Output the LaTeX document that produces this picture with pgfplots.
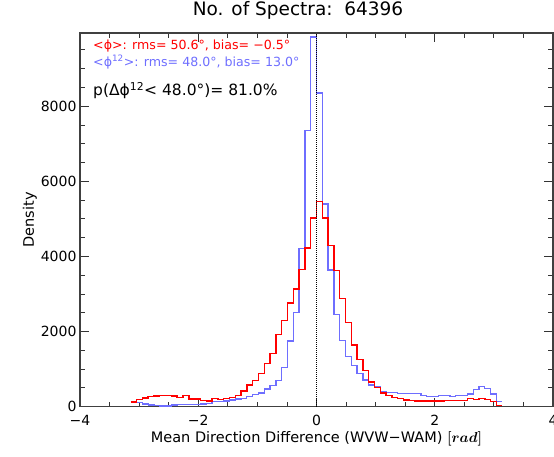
\documentclass[border=0pt]{standalone}
\usepackage{pgfplots}
\pgfplotsset{compat=1.18}
\usepackage{pgfplotstable}
\usepackage{bm}
\usepackage{fontspec}
\setmainfont{DejaVu Sans}
\definecolor{myred}{RGB}{255,0,0}
\definecolor{myblue}{RGB}{110,110,255}
\pgfplotstableread{
x red blue
-3.1416 120 133
-3.0434 190 106
-2.9452 230 70
-2.8471 265 44
-2.7489 285 25
-2.6507 290 18
-2.5525 290 18
-2.4544 280 44
-2.3562 250 50
-2.2580 290 62
-2.1598 205 62
-2.0617 205 62
-1.9635 170 70
-1.8653 150 75
-1.7671 215 133
-1.6690 195 140
-1.5708 220 150
-1.4726 250 177
-1.3744 290 200
-1.2763 418 221
-1.1781 573 275
-1.0799 700 326
-0.9817 884 360
-0.8836 1140 470
-0.7854 1420 560
-0.6872 1925 700
-0.5890 2300 1045
-0.4909 2760 1750
-0.3927 3130 2505
-0.2945 3645 4202
-0.1963 4220 7361
-0.0982 5025 9840
0.0000 5458 8352
0.0982 5025 5397
0.1963 4290 3635
0.2945 3625 2455
0.3927 2880 1768
0.4909 2245 1340
0.5890 1640 1095
0.6872 1260 884
0.7854 955 706
0.8836 655 573
0.9817 512 528
1.0799 365 396
1.1781 300 380
1.2763 245 370
1.3744 210 354
1.4726 175 354
1.5708 170 354
1.6690 150 340
1.7671 150 290
1.8653 150 265
1.9635 150 265
2.0617 150 292
2.1598 160 292
2.2580 160 265
2.3562 160 292
2.4544 170 300
2.5525 221 336
2.6507 195 460
2.7489 221 531
2.8471 195 487
2.9452 133 336
3.0434 30 133
3.1416 30 133
}\histdata
\begin{document}
\begin{tikzpicture}
\begin{axis}[
  at={(0,0)}, anchor=south west,
  scale only axis, width=473pt, height=373.6pt,
  xmin=-4, xmax=4, ymin=0, ymax=9950,
  xtick={-4,-2,0,2,4}, xticklabels={−4,−2,0,2,4},
  minor xtick={-3.5,-3,-2.5,-1.5,-1,-0.5,0.5,1,1.5,2.5,3,3.5},
  ytick={0,2000,4000,6000,8000}, yticklabels={0,2000,4000,6000,8000},
  minor ytick={500,1000,1500,2500,3000,3500,4500,5000,5500,6500,7000,7500,8500,9000,9500},
  major tick length=9pt, minor tick length=5pt,
  tick align=inside,
  tick style={line width=0.8pt, color=black!80},
  axis line style={line width=1.2pt, black!75},
  /pgf/number format/assume math mode=true,
  ticklabel style={font=\fontsize{14pt}{16pt}\selectfont},
  xticklabel style={yshift=-5pt},
  xlabel={Mean Direction Difference (WVW−WAM) {\boldmath$[rad]$}},
  ylabel={Density},
  label style={font=\fontsize{14.5pt}{16pt}\selectfont},
  xlabel style={at={(axis description cs:0.5,-0.087)}, anchor=center},
  ylabel style={at={(axis description cs:-0.106,0.5)}, anchor=center},
  title={No. of Spectra:\ \ 64396},
  title style={at={(axis description cs:0.461,1.0455)}, anchor=center, font=\fontsize{18.5pt}{20pt}\selectfont},
]
\addplot[const plot, color=myblue, line width=1.3pt] table[x=x, y=blue] {\histdata};
\addplot[const plot, color=myred, line width=1.4pt] table[x=x, y=red] {\histdata};
\addplot[black, densely dotted, line width=1pt] coordinates {(0,0) (0,9950)};
\node[anchor=west, inner sep=0pt, text=myred, font=\fontsize{12.6pt}{14pt}\selectfont] at (rel axis cs:0.0275,0.965) {<ϕ>: rms= 50.6°, bias= −0.5°};
\node[anchor=west, inner sep=0pt, text=myblue, font=\fontsize{12.6pt}{14pt}\selectfont] at (rel axis cs:0.0275,0.922) {<ϕ\textsuperscript{12}>: rms= 48.0°, bias= 13.0°};
\node[anchor=west, inner sep=0pt, text=black, font=\fontsize{15.5pt}{17pt}\selectfont] at (rel axis cs:0.0275,0.845) {p(Δϕ\textsuperscript{12}< 48.0°)= 81.0\%};
\end{axis}
\pgfresetboundingbox
\useasboundingbox (-80pt,-50.4pt) rectangle (474pt,406.6pt);
\end{tikzpicture}
\end{document}
